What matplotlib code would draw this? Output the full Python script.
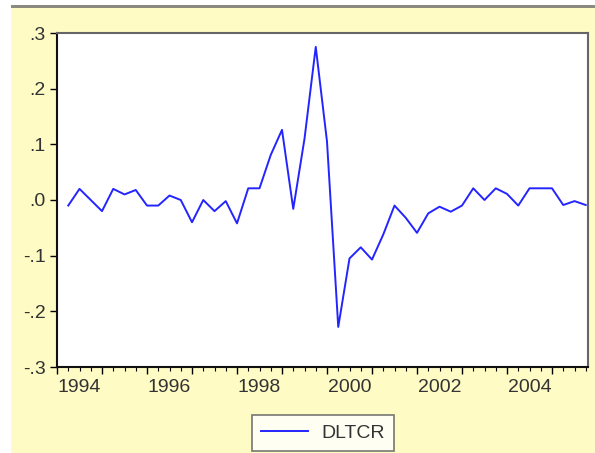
import matplotlib
matplotlib.use('Agg')
import matplotlib.pyplot as plt
import numpy as np
from matplotlib.patches import Rectangle
from matplotlib.ticker import MultipleLocator, FixedLocator

# quarterly series, 1994Q2 - 2005Q4
start_year = 1994
start_quarter = 2
dltcr = [
    -0.010, 0.020, 0.000, -0.020, 0.020, 0.010, 0.018, -0.010, -0.010, 0.008,
    0.000, -0.040, 0.000, -0.020, -0.002, -0.042, 0.021, 0.021, 0.081, 0.126,
    -0.016, 0.110, 0.275, 0.105, -0.228, -0.105, -0.085, -0.107, -0.062, -0.010,
    -0.032, -0.059, -0.024, -0.012, -0.021, -0.010, 0.021, 0.000, 0.021, 0.011,
    -0.010, 0.021, 0.021, 0.021, -0.009, -0.002, -0.009,
]
series_name = "DLTCR"
year_labels = ["1994", "1996", "1998", "2000", "2002", "2004"]
y_ticks = [-0.3, -0.2, -0.1, 0.0, 0.1, 0.2, 0.3]
y_ticklabels = ["-.3", "-.2", "-.1", ".0", ".1", ".2", ".3"]

t = start_year + (start_quarter - 1) / 4 + np.arange(len(dltcr)) / 4

plt.rcParams['font.family'] = ['Liberation Sans', 'DejaVu Sans']
W, H = 595, 453
fig = plt.figure(figsize=(W / 100, H / 100), dpi=100)
fig.patch.set_facecolor('#FEFBC4')

# white margins + grey line at top (window frame)
fig.patches.append(Rectangle((0, 0), 11 / W, 1, transform=fig.transFigure,
                             facecolor='white', edgecolor='none', zorder=0))
fig.patches.append(Rectangle((0, 1 - 5 / H), 1, 5 / H, transform=fig.transFigure,
                             facecolor='white', edgecolor='none', zorder=0))
fig.patches.append(Rectangle((11 / W, 1 - 8 / H), 1, 3 / H, transform=fig.transFigure,
                             facecolor='#8a8a80', edgecolor='none', zorder=0))

ax = fig.add_axes([57 / W, (H - 367) / H, (588 - 57) / W, (367 - 33) / H])
ax.set_facecolor('white')
ax.plot(t, dltcr, color='#2424FF', lw=1.4, label=series_name)

ax.set_xlim(1994.0, 2005.8)
ax.set_ylim(-0.3, 0.3)

ax.set_yticks(y_ticks)
ax.set_yticklabels(y_ticklabels)
ax.tick_params(axis='y', direction='out', length=5, width=1, pad=3,
               labelsize=14, labelcolor='#333333')

ax.xaxis.set_major_locator(MultipleLocator(1))
ax.xaxis.set_minor_locator(MultipleLocator(0.25))
ax.set_xticklabels([])
ax.tick_params(axis='x', which='major', direction='out', length=5, width=1)
ax.tick_params(axis='x', which='minor', direction='out', length=3, width=0.8)

# year labels centred on the year span
sec = ax.secondary_xaxis('bottom')
sec.xaxis.set_major_locator(FixedLocator([int(y) + 0.5 for y in year_labels]))
sec.set_xticklabels(year_labels)
sec.tick_params(length=0, pad=9, labelsize=14, labelcolor='#333333')
sec.spines['bottom'].set_visible(False)

for side in ['left', 'bottom']:
    ax.spines[side].set_color('#111111')
    ax.spines[side].set_linewidth(1.5)
for side in ['top', 'right']:
    ax.spines[side].set_color('#666666')
    ax.spines[side].set_linewidth(1.5)

leg = fig.legend(loc='center', bbox_to_anchor=(323 / W, 1 - 433 / H),
                 fontsize=14, handlelength=2.4, fancybox=False, frameon=True,
                 borderpad=0.45, handletextpad=0.7, borderaxespad=0)
leg.get_frame().set_edgecolor('#555555')
leg.get_frame().set_linewidth(1.2)
leg.get_frame().set_facecolor('white')
for txt in leg.get_texts():
    txt.set_color('#333333')

fig.savefig('out.png', dpi=100, facecolor=fig.get_facecolor())
